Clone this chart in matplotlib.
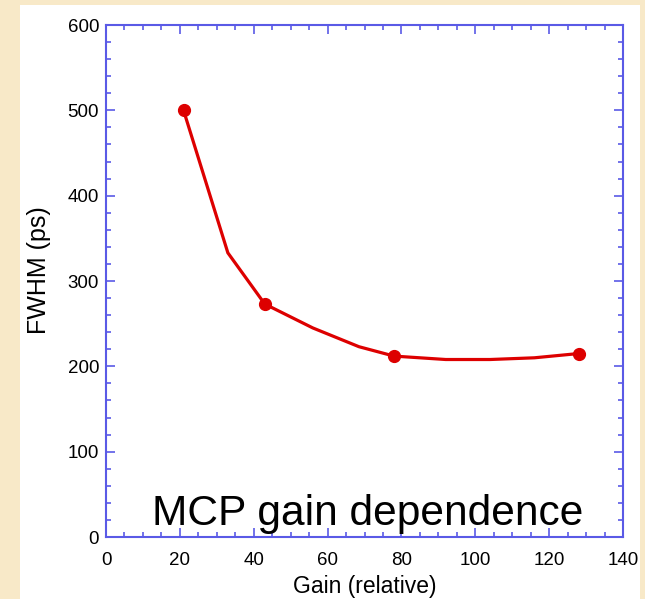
import numpy as np
import matplotlib
matplotlib.use("Agg")
import matplotlib.pyplot as plt
from matplotlib.patches import Rectangle
from matplotlib.ticker import MultipleLocator

# measured points (markers) and the line through them
gain_pts = [21, 43, 78, 128]
fwhm_pts = [500, 273, 212, 215]
gain_line = [21, 33, 43, 56, 68.5, 78, 92, 104, 116, 128]
fwhm_line = [500, 333, 273, 245, 223, 212, 208, 208, 210, 215]

title = "MCP gain dependence"
xlabel = "Gain (relative)"
ylabel = "FWHM (ps)"

plt.rcParams["font.family"] = ["Liberation Sans", "DejaVu Sans"]

W, H = 645, 599
fig = plt.figure(figsize=(W / 100, H / 100), dpi=100)
fig.patch.set_facecolor("#f8e9c8")
# white panel on the parchment
fig.patches.append(Rectangle((20 / W, 0), (640 - 20) / W, (H - 5) / H,
                             transform=fig.transFigure, facecolor="white",
                             edgecolor="none", zorder=-10))

ax = fig.add_axes([106 / W, 1 - 537 / H, (623 - 106) / W, (537 - 25) / H])
ax.set_facecolor("white")

red = "#dd0000"
ax.plot(gain_line, fwhm_line, color=red, lw=2.3, solid_joinstyle="miter", zorder=3)
ax.plot(gain_pts, fwhm_pts, "o", color=red, ms=8.5, zorder=4)

ax.set_xlim(0, 140)
ax.set_ylim(0, 600)
ax.xaxis.set_major_locator(MultipleLocator(20))
ax.xaxis.set_minor_locator(MultipleLocator(5))
ax.yaxis.set_major_locator(MultipleLocator(100))
ax.yaxis.set_minor_locator(MultipleLocator(20))

blue = "#5a5ae6"
for s in ax.spines.values():
    s.set_color(blue)
    s.set_linewidth(1.5)
ax.tick_params(which="both", direction="in", top=True, right=True,
               color=blue, width=1.2, labelsize=13.5, labelcolor="black")
ax.tick_params(which="major", length=6.5)
ax.tick_params(which="minor", length=3.3)
ax.tick_params(axis="x", which="major", pad=11)
ax.tick_params(axis="y", which="major", pad=5)

ax.set_xlabel(xlabel, fontsize=16.5, labelpad=4)
ax.set_ylabel(ylabel, fontsize=18)
ax.yaxis.set_label_coords((51 - 106) / 517, (537 - 270) / 512)

ax.text(12.4, 14, title, fontsize=30.6, va="baseline", ha="left", zorder=5)

fig.savefig("out.png", dpi=100, facecolor=fig.get_facecolor())
